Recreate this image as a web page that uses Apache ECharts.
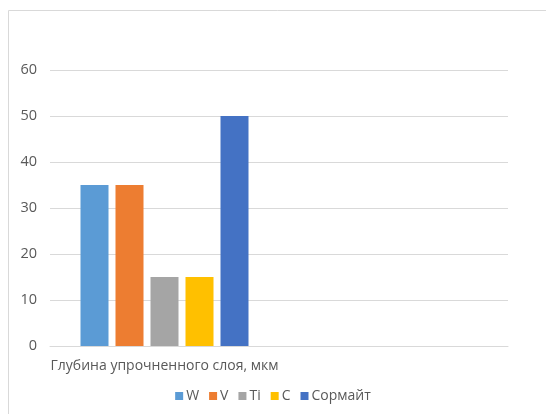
<!DOCTYPE html>
<html><head><meta charset="utf-8">
<script src="https://cdn.jsdelivr.net/npm/echarts@6/dist/echarts.min.js"></script>
<style>html,body{margin:0;padding:0;background:#fff}#c{width:546px;height:414px}</style>
</head><body><div id="c"></div>
<script>
var categories = ['Глубина упрочненного слоя, мкм', ''];
var seriesNames = ['W', 'V', 'Ti', 'C', 'Сормайт'];
var valW = [35, null];
var valV = [35, null];
var valTi = [15, null];
var valC = [15, null];
var valS = [50, null];
var yTicks = [0, 10, 20, 30, 40, 50, 60];
var colors = ['#5B9BD5', '#ED7D31', '#A5A5A5', '#FFC000', '#4472C4'];
var values = [valW, valV, valTi, valC, valS];
var font = 'Open Sans';
var chart = echarts.init(document.getElementById('c'), null, {renderer: 'canvas'});
chart.setOption({
  animation: false,
  textStyle: {fontFamily: font},
  graphic: [
    {type: 'line', shape: {x1: 8.5, y1: 10.5, x2: 546, y2: 10.5}, style: {stroke: '#d9d9d9', lineWidth: 1}},
    {type: 'line', shape: {x1: 8.5, y1: 10.5, x2: 8.5, y2: 414}, style: {stroke: '#d9d9d9', lineWidth: 1}}
  ],
  grid: {left: 50, right: 38, top: 70, bottom: 68},
  legend: {
    bottom: 6, left: 'center',
    icon: 'rect', itemWidth: 8, itemHeight: 8, itemGap: 10,
    textStyle: {color: '#595959', fontSize: 14, fontFamily: font, padding: [0, 0, 0, -2]},
    data: seriesNames
  },
  xAxis: {
    type: 'category', data: categories,
    axisLine: {lineStyle: {color: '#d9d9d9'}},
    axisTick: {show: false},
    axisLabel: {color: '#595959', fontSize: 14, margin: 13, fontFamily: font, interval: 0}
  },
  yAxis: {
    type: 'value', min: yTicks[0], max: yTicks[yTicks.length - 1], interval: 10,
    axisLine: {show: false}, axisTick: {show: false},
    splitLine: {lineStyle: {color: '#d9d9d9'}},
    axisLabel: {color: '#595959', fontSize: 14.5, margin: 13, fontFamily: font}
  },
  series: seriesNames.map(function (n, i) {
    return {name: n, type: 'bar', data: values[i], barWidth: 28, barGap: '25%', itemStyle: {color: colors[i]}};
  })
});
</script></body></html>
